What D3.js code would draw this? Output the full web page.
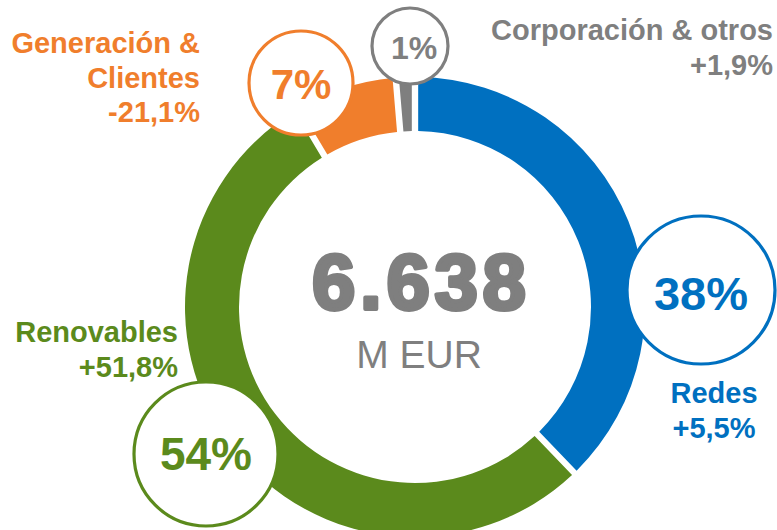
<!DOCTYPE html>
<html><head><meta charset="utf-8">
<script src="https://cdn.jsdelivr.net/npm/d3@7"></script>
<style>html,body{margin:0;padding:0;background:#fff;}svg{display:block;}</style>
</head><body>
<svg id="chart" width="777" height="530"></svg>
<script>
const categories = ["Redes", "Renovables", "Generación & Clientes", "Corporación & otros"];
const shares = [38, 54, 7, 1];
const changes = ["+5,5%", "+51,8%", "-21,1%", "+1,9%"];
const totalLabel = "6.638";
const unitLabel = "M EUR";

const colors = ["#0070C0", "#5B8A1C", "#F07E2C", "#7F7F7F"];
const font = "'Liberation Sans', Arial, sans-serif";

const svg = d3.select("#chart");
const cx = 415, cy = 307, rOuter = 230, rInner = 176;

const data = categories.map((c, i) => ({ name: c, share: shares[i], change: changes[i], color: colors[i] }));
const pie = d3.pie().sort(null).value(d => d.share).padAngle(0.022);
const arc = d3.arc().innerRadius(rInner).outerRadius(rOuter);

const g = svg.append("g").attr("transform", `translate(${cx},${cy})`);
g.selectAll("path").data(pie(data)).join("path")
  .attr("d", arc).attr("fill", d => d.data.color);

// centre text
svg.append("text").attr("x", 419).attr("y", 309).attr("text-anchor", "middle")
  .attr("font-family", font).attr("font-weight", "bold").attr("font-size", 78)
  .attr("fill", "#7F7F7F").attr("stroke", "#7F7F7F").attr("stroke-width", 4)
  .attr("stroke-linejoin", "round")
  .attr("textLength", 214).attr("lengthAdjust", "spacing")
  .text(totalLabel);
svg.append("text").attr("x", 419).attr("y", 368).attr("text-anchor", "middle")
  .attr("font-family", font).attr("font-size", 39).attr("fill", "#7F7F7F")
  .text(unitLabel);

// callout circles (layout)
const callouts = [
  { cx: 701, cy: 290, r: 74, fs: 47, ty: 310, tx: 701 },
  { cx: 206, cy: 454, r: 72, fs: 46, ty: 470, tx: 206 },
  { cx: 301, cy: 83, r: 52, fs: 42, ty: 99, tx: 301 },
  { cx: 410, cy: 46, r: 38, fs: 32, ty: 59, tx: 414 }
];
data.forEach((d, i) => {
  const c = callouts[i];
  svg.append("circle").attr("cx", c.cx).attr("cy", c.cy).attr("r", c.r)
    .attr("fill", "#fff").attr("stroke", d.color).attr("stroke-width", 3.2);
  svg.append("text").attr("x", c.tx).attr("y", c.ty).attr("text-anchor", "middle")
    .attr("font-family", font).attr("font-weight", "bold").attr("font-size", c.fs)
    .attr("fill", d.color).text(d.share + "%");
});

// category labels (layout)
const labels = [
  { x: 714, anchor: "middle", lines: ["Redes"], y0: 403 },
  { x: 178, anchor: "end", lines: ["Renovables"], y0: 342 },
  { x: 200, anchor: "end", lines: ["Generación &", "Clientes"], y0: 53 },
  { x: 773, anchor: "end", lines: ["Corporación & otros"], y0: 40 }
];
data.forEach((d, i) => {
  const L = labels[i];
  const t = svg.append("text").attr("text-anchor", L.anchor)
    .attr("font-family", font).attr("font-weight", "bold").attr("font-size", 29)
    .attr("fill", d.color);
  L.lines.concat([d.change]).forEach((line, j) => {
    t.append("tspan").attr("x", L.x).attr("y", L.y0 + j * 34.5).text(line);
  });
});
</script>
</body></html>
